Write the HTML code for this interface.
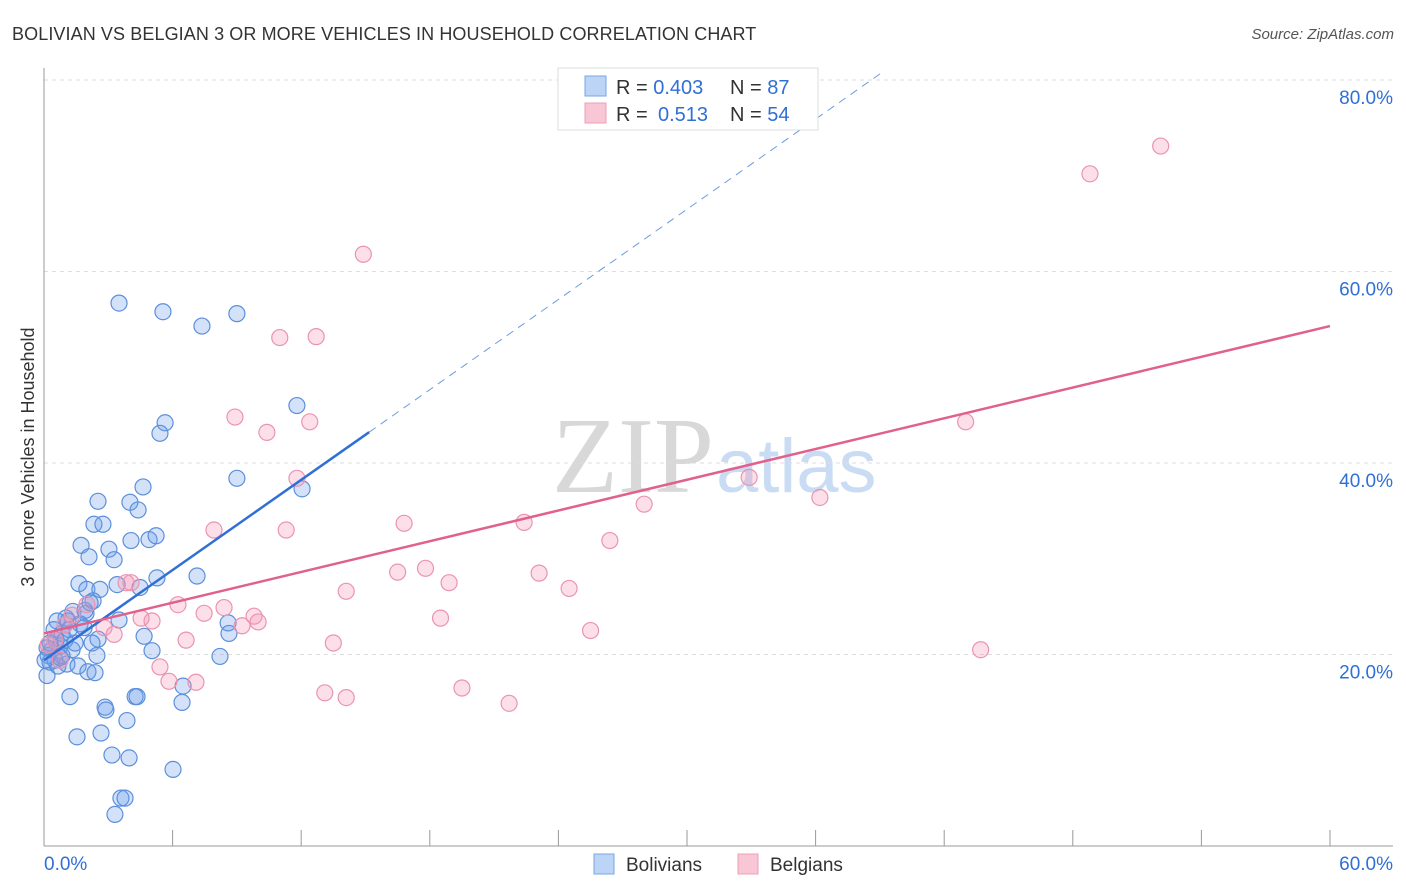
<!DOCTYPE html>
<html><head><meta charset="utf-8"><style>
body{margin:0;background:#fff;font-family:"Liberation Sans",sans-serif}
svg{display:block}
</style></head><body>
<svg id="c" width="1406" height="892">
<text x="12" y="40" font-size="18" fill="#333" letter-spacing="0.1">BOLIVIAN VS BELGIAN 3 OR MORE VEHICLES IN HOUSEHOLD CORRELATION CHART</text>
<text x="1394" y="39" font-size="15" fill="#555" text-anchor="end" font-style="italic">Source: ZipAtlas.com</text>
<text x="714" y="492" font-size="108" fill="#d8d8d8" text-anchor="end" font-family="Liberation Serif,serif">ZIP</text>
<text x="716" y="492" font-size="76" fill="#c9dcf3">atlas</text>
<g id="grid"></g>
<g id="pts"></g>
<g id="lines"></g>
<text transform="translate(34,457) rotate(-90)" font-size="18" fill="#333" text-anchor="middle">3 or more Vehicles in Household</text>
<g>
<rect x="558" y="68" width="260" height="62" fill="#fff" stroke="#ddd"/>
<rect x="585" y="76" width="21" height="20" fill="#bcd4f5" stroke="#7aa6e6"/>
<rect x="585" y="103" width="21" height="20" fill="#f9c6d5" stroke="#ee9fb8"/>
<text x="616" y="94" font-size="20" fill="#333">R = <tspan fill="#2f6fd6">0.403</tspan><tspan x="730">N = </tspan><tspan fill="#2f6fd6">87</tspan></text>
<text x="616" y="121" font-size="20" fill="#333">R = <tspan x="658" fill="#2f6fd6">0.513</tspan><tspan x="730">N = </tspan><tspan fill="#2f6fd6">54</tspan></text>
</g>
<g>
<rect x="594" y="854" width="20" height="20" fill="#bcd4f5" stroke="#7aa6e6"/>
<text x="626" y="871" font-size="19" fill="#333">Bolivians</text>
<rect x="738" y="854" width="20" height="20" fill="#f9c6d5" stroke="#ee9fb8"/>
<text x="770" y="871" font-size="19" fill="#333">Belgians</text>
</g>
</svg>
<script>
const xTicks=[0,60];
const yTicks=[20,40,60,80];
const bolX=[3.5,5.55,7.37,9.0,11.8,5.65,5.41,9.0,12.04,4.62,2.52,4.01,4.39,2.33,2.75,1.73,4.06,4.9,5.23,3.03,2.1,3.27,5.27,7.14,1.63,2.0,2.61,3.41,4.48,2.29,1.35,1.96,3.5,1.03,0.61,1.68,4.67,2.52,2.24,0.75,0.37,0.19,0.51,8.59,8.63,5.04,8.21,1.07,1.59,2.47,2.05,2.38,0.14,6.49,1.21,4.25,4.34,6.44,2.85,2.89,3.87,1.54,2.66,3.17,3.97,6.02,3.59,3.78,3.31,1.12,1.87,0.84,0.56,0.14,0.98,1.31,0.28,0.65,0.28,0.47,1.45,0.84,0.05,1.17,1.91,2.15,0.75];
const bolY=[56.7,55.8,54.3,55.6,46.0,44.2,43.1,38.4,37.3,37.5,36.0,35.9,35.1,33.6,33.6,31.4,31.9,32.0,32.4,31.0,30.2,29.9,28.0,28.2,27.4,26.8,26.8,27.3,27.0,25.6,24.5,24.3,23.6,23.8,23.5,23.2,21.9,21.6,21.2,20.9,20.5,19.9,19.4,23.3,22.2,20.4,19.8,19.0,18.8,19.9,18.2,18.1,17.8,16.7,15.6,15.6,15.6,15.0,14.5,14.2,13.1,11.4,11.8,9.5,9.2,8.0,5.0,5.0,3.3,23.5,22.8,22.2,21.5,20.7,21.5,20.5,19.2,18.8,21.2,22.6,21.2,19.9,19.4,22.6,24.6,25.4,19.7];
const belX=[14.9,52.1,48.8,11.0,12.7,8.91,10.4,12.4,43.0,11.8,32.9,36.2,28.0,16.8,22.4,7.93,11.3,26.4,17.8,16.5,18.9,23.1,24.5,14.1,3.83,4.06,6.25,7.47,8.4,4.53,5.04,9.8,9.99,9.24,18.5,25.5,2.8,3.27,2.0,6.63,13.5,43.7,5.41,5.83,7.09,13.1,14.1,19.5,21.7,0.51,0.19,0.98,1.31,0.75];
const belY=[61.8,73.1,70.2,53.1,53.2,44.8,43.2,44.3,44.3,38.4,38.5,36.4,35.7,33.7,33.8,33.0,33.0,31.9,29.0,28.6,27.5,28.5,26.9,26.6,27.5,27.5,25.2,24.3,24.9,23.8,23.5,24.0,23.4,23.0,23.8,22.5,22.8,22.1,25.2,21.5,21.2,20.5,18.7,17.2,17.1,16.0,15.5,16.5,14.9,21.5,21.0,23.1,24.1,19.4];
const bolLine=[19.4,1.57]; // intercept, slope
const bolSolidEnd=15.17;
const belLine=[22.2,0.535];
const sx=v=>44+v*1286/60, sy=v=>846-v*9.575;
const NS='http://www.w3.org/2000/svg';
function mk(t,a,p){const e=document.createElementNS(NS,t);for(const k in a)e.setAttribute(k,a[k]);p.appendChild(e);return e;}
const g=document.getElementById('grid');
yTicks.forEach(t=>{
 const l=mk('line',{x1:44,x2:1393,y1:sy(t),y2:sy(t),stroke:'#ddd','stroke-dasharray':'4,4'},g);
 
 
 const tx=mk('text',{x:1393,y:sy(t)+24,'font-size':19,fill:'#2f6fd6','text-anchor':'end'},g);tx.textContent=t.toFixed(1)+'%';
 
 
});
mk('line',{x1:44,x2:44,y1:68,y2:846,stroke:'#999'},g);
mk('line',{x1:44,x2:1393,y1:846,y2:846,stroke:'#999'},g);
for(let i=0;i<=10;i++){mk('line',{x1:sx(i*6),x2:sx(i*6),y1:830,y2:846,stroke:'#999'},g);}
xTicks.forEach((t,i)=>{const tx=mk('text',{x:i?1393:44,y:870,'font-size':19,fill:'#2f6fd6','text-anchor':i?'end':'start'},g);tx.textContent=t.toFixed(1)+'%';
 
 });
const p=document.getElementById('pts');
bolX.forEach((x,i)=>{const c=mk('circle',{cx:sx(x),cy:sy(bolY[i]),r:8,fill:'rgba(110,160,235,0.3)',stroke:'#5b8fdb','stroke-width':1.2},p);
 
 });
belX.forEach((x,i)=>{const c=mk('circle',{cx:sx(x),cy:sy(belY[i]),r:8,fill:'rgba(245,150,180,0.3)',stroke:'#eb94b0','stroke-width':1.2},p);
 
 });
const L=document.getElementById('lines');
const bx1=bolSolidEnd, bxe=(81-bolLine[0])/bolLine[1];
const l1=mk('line',{x1:sx(0),y1:sy(bolLine[0]),x2:sx(bx1),y2:sy(bolLine[0]+bolLine[1]*bx1),stroke:'#2f6fd6','stroke-width':2.5},L);


const l2=mk('line',{x1:sx(bx1),y1:sy(bolLine[0]+bolLine[1]*bx1),x2:sx(bxe),y2:sy(81),stroke:'#6a9be0','stroke-width':1,'stroke-dasharray':'8,6'},L);


const l3=mk('line',{x1:sx(0),y1:sy(belLine[0]),x2:sx(60),y2:sy(belLine[0]+belLine[1]*60),stroke:'#e0608e','stroke-width':2.5},L);


</script>
</body></html>
